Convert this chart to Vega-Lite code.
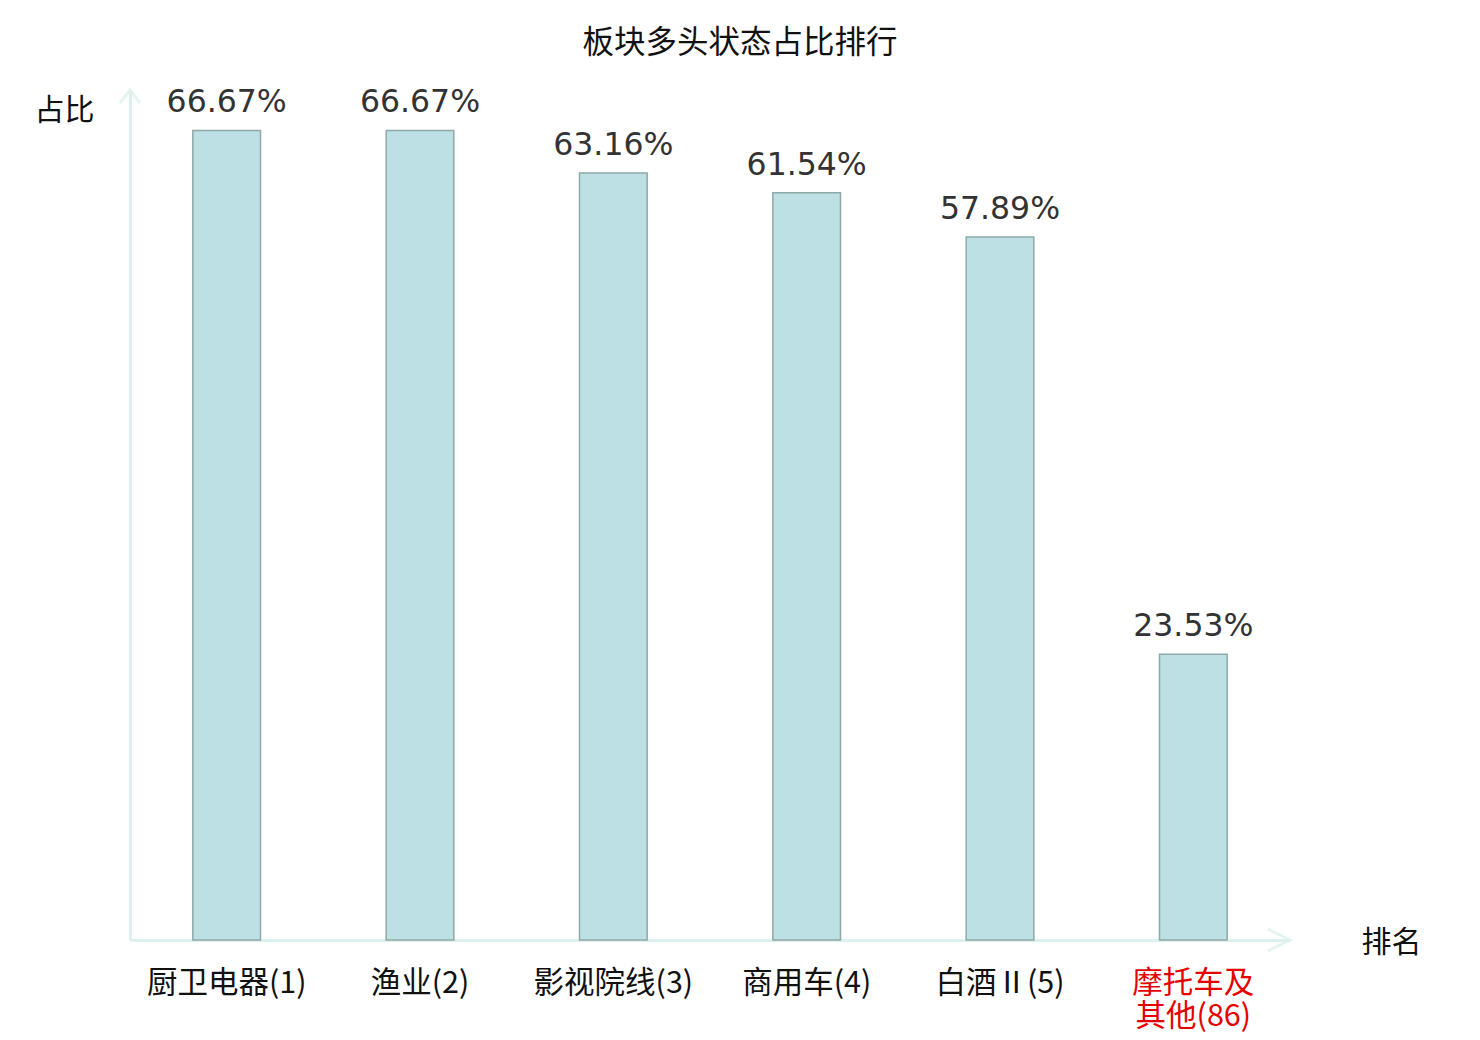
{
  "$schema": "https://vega.github.io/schema/vega-lite/v6.json",
  "width": 1160,
  "height": 850,
  "autosize": "none",
  "padding": {"left": 130, "top": 90, "right": 190, "bottom": 100},
  "background": "white",
  "config": {"view": {"stroke": null}, "font": "DejaVu Sans, Noto Sans CJK SC"},
  "title": {"text": "板块多头状态占比排行", "fontSize": 31.5, "fontWeight": "normal", "font": "Noto Sans CJK SC", "color": "#111", "offset": 25, "dx": 30},
  "data": {"values": [
    {"name": "厨卫电器(1)", "value": 66.67, "label": "66.67%"},
    {"name": "渔业(2)", "value": 66.67, "label": "66.67%"},
    {"name": "影视院线(3)", "value": 63.16, "label": "63.16%"},
    {"name": "商用车(4)", "value": 61.54, "label": "61.54%"},
    {"name": "白酒Ⅱ(5)", "value": 57.89, "label": "57.89%"},
    {"name": "摩托车及其他(86)", "value": 23.53, "label": "23.53%"}
  ]},
  "layer": [
    {
      "mark": {"type": "bar", "fill": "#bce0e3", "stroke": "#8fa8a8", "strokeWidth": 1.5},
      "encoding": {
        "x": {"field": "name", "type": "nominal", "sort": null,
          "scale": {"paddingInner": 0.65, "paddingOuter": 0.325},
          "axis": {"title": "排名", "titleFont": "Noto Sans CJK SC", "titleFontSize": 30, "titleFontWeight": "normal", "titleColor": "#111",
            "titleX": 1261, "titleY": 2, "titleAlign": "center", "titleBaseline": "middle", "titleAngle": 0,
            "domainColor": "#dcf0ed", "domainWidth": 3, "ticks": false, "labelAngle": 0,
            "labelFont": "Noto Sans CJK SC", "labelFontSize": 30.5, "labelPadding": 28, "labelLineHeight": 33, "labelBaseline": "top",
            "labelExpr": "datum.value == '摩托车及其他(86)' ? ['摩托车及', '其他(86)'] : datum.value",
            "labelColor": {"condition": {"test": "datum.value == '摩托车及其他(86)'", "value": "#e60000"}, "value": "#111"}}},
        "y": {"field": "value", "type": "quantitative", "scale": {"domain": [0, 70], "nice": false},
          "axis": {"title": "占比", "titleFont": "Noto Sans CJK SC", "titleFontSize": 30, "titleFontWeight": "normal", "titleColor": "#111",
            "titleAngle": 0, "titleX": -66, "titleY": 20, "titleAlign": "center", "titleBaseline": "middle",
            "domainColor": "#dcf0ed", "domainWidth": 3, "ticks": false, "labels": false, "grid": false}}
      }
    },
    {
      "mark": {"type": "text", "baseline": "bottom", "dy": -11, "fontSize": 31.5, "color": "#333", "font": "DejaVu Sans"},
      "encoding": {
        "x": {"field": "name", "type": "nominal", "sort": null},
        "y": {"field": "value", "type": "quantitative"},
        "text": {"field": "label"}
      }
    },
    {
      "data": {"values": [{"axis": "y"}]},
      "mark": {"type": "point", "shape": "M-1,1.3L0,0L1,1.3", "size": 400, "filled": false, "stroke": "#dcf0ed", "strokeWidth": 3},
      "encoding": {"x": {"value": 0}, "y": {"datum": 70}}
    },
    {
      "data": {"values": [{"axis": "x"}]},
      "mark": {"type": "point", "shape": "M-2,-1L0,0L-2,1", "size": 484, "filled": false, "stroke": "#dcf0ed", "strokeWidth": 3},
      "encoding": {"x": {"value": "width"}, "y": {"value": "height"}}
    }
  ]
}
